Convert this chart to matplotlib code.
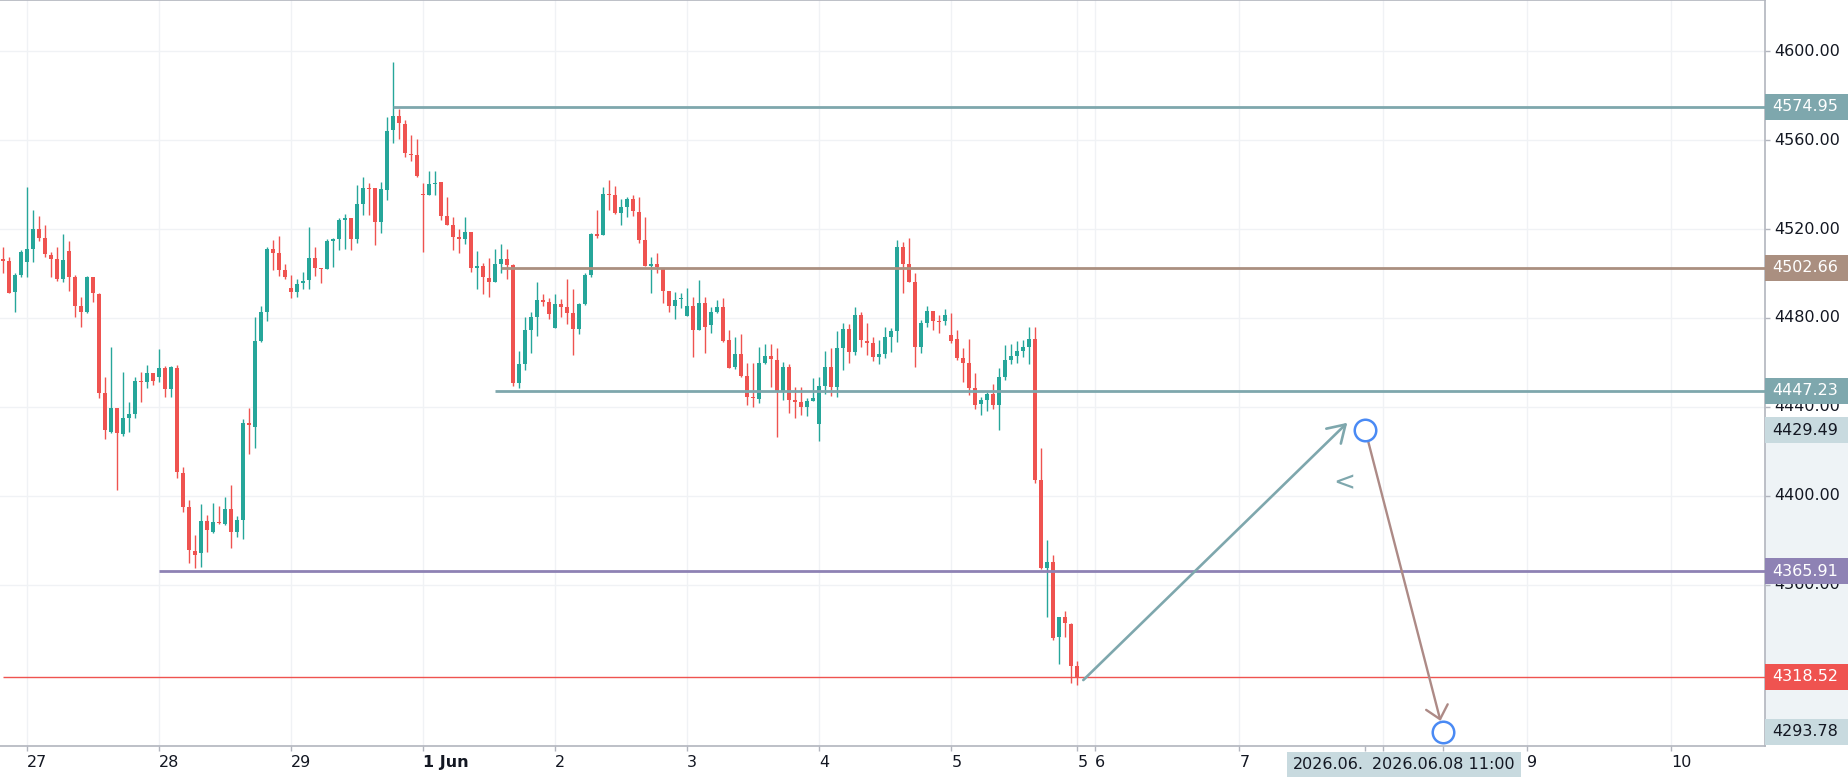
import matplotlib
matplotlib.use("Agg")
import matplotlib.pyplot as plt
import matplotlib.transforms as mtransforms
from matplotlib.patches import Rectangle
import numpy as np

#%% Farben

col_up = "#26a69a"
col_down = "#ef5350"
col_teal = "#7ea7ad"
col_brown = "#aa8f80"
col_purple = "#8e82b4"
col_light = "#c8dadf"
col_band = "#eef3f6"
col_grid = "#f0f2f5"
col_axis = "#b2b5be"
col_text = "#131722"
col_circle = "#4a8af4"
col_arrow2 = "#ad8a86"

#%% Daten: 1h-Kerzen, 26.05. 18:00 bis 05.06. 21:00

opens = [4506.6, 4505.5, 4491.5, 4499.5, 4505.0, 4511.0, 4519.8, 4515.8, 4508.3, 4506.3,
         4497.3, 4510.2, 4498.2, 4485.5, 4482.5, 4498.2, 4490.7, 4446.0, 4428.5, 4439.3,
         4427.7, 4434.8, 4436.6, 4451.6, 4451.0, 4455.0, 4453.5, 4457.6, 4447.8, 4457.6,
         4410.3, 4394.7, 4375.0, 4374.3, 4388.7, 4383.8, 4388.0, 4387.2, 4394.0, 4383.8,
         4389.0, 4432.5, 4431.0, 4469.7, 4482.8, 4510.8, 4509.0, 4501.5, 4493.3, 4491.5,
         4495.5, 4497.0, 4507.0, 4502.3, 4501.8, 4514.6, 4515.3, 4524.0, 4525.0, 4515.3,
         4531.2, 4538.5, 4538.5, 4523.2, 4537.6, 4564.6, 4571.0, 4567.1, 4553.6, 4553.3,
         4535.9, 4535.3, 4540.1, 4541.3, 4525.9, 4521.8, 4516.6, 4515.4, 4518.5, 4502.6,
         4503.5, 4498.1, 4496.3, 4504.3, 4506.4, 4503.8, 4450.9, 4459.1, 4474.6, 4480.6,
         4488.1, 4487.3, 4475.3, 4486.1, 4484.8, 4482.1, 4474.9, 4486.3, 4499.3, 4517.8,
         4517.3, 4535.8, 4535.3, 4527.4, 4530.1, 4533.4, 4527.8, 4515.1, 4503.5, 4504.1,
         4502.6, 4492.1, 4485.5, 4488.4, 4480.9, 4485.4, 4474.6, 4486.9, 4476.8, 4482.5,
         4484.8, 4470.1, 4457.8, 4463.8, 4453.9, 4444.6, 4443.5, 4459.6, 4463.0, 4461.1,
         4446.5, 4457.8, 4443.1, 4442.3, 4439.8, 4442.6, 4432.3, 4449.4, 4457.8, 4449.0,
         4466.3, 4475.2, 4464.8, 4481.3, 4469.8, 4468.6, 4462.6, 4463.8, 4471.3, 4474.3,
         4511.7, 4504.3, 4496.3, 4466.8, 4477.9, 4483.3, 4478.8, 4478.8, 4472.3, 4470.4,
         4461.8, 4459.6, 4448.3, 4441.3, 4443.1, 4445.8, 4440.8, 4453.6, 4461.1, 4462.8,
         4465.3, 4467.1, 4470.4, 4407.0, 4367.3, 4370.3, 4336.3, 4345.6, 4342.3, 4323.4]
highs = [4511.7, 4507.5, 4500.0, 4510.5, 4538.7, 4528.5, 4525.8, 4521.8, 4509.5, 4512.0,
         4517.7, 4514.4, 4499.2, 4489.5, 4498.8, 4498.2, 4491.0, 4453.5, 4467.0, 4439.3,
         4455.8, 4442.0, 4453.5, 4455.8, 4459.0, 4455.0, 4465.8, 4458.3, 4458.3, 4459.0,
         4413.0, 4398.0, 4382.5, 4396.2, 4391.3, 4396.8, 4395.5, 4399.5, 4405.0, 4390.8,
         4434.3, 4439.3, 4480.5, 4485.3, 4511.7, 4515.0, 4517.0, 4504.2, 4499.3, 4497.5,
         4500.8, 4521.0, 4511.7, 4502.3, 4515.3, 4515.8, 4524.8, 4526.7, 4525.0, 4540.0,
         4543.5, 4540.5, 4538.5, 4541.3, 4570.3, 4595.3, 4574.0, 4569.0, 4562.3, 4560.4,
         4540.6, 4546.1, 4546.1, 4541.3, 4534.6, 4525.6, 4519.9, 4525.3, 4518.8, 4510.3,
         4504.9, 4506.8, 4510.9, 4513.1, 4510.9, 4504.3, 4465.1, 4480.6, 4482.8, 4496.0,
         4490.6, 4488.8, 4490.6, 4488.4, 4497.4, 4492.9, 4486.9, 4500.1, 4518.4, 4528.6,
         4538.8, 4542.1, 4539.4, 4533.4, 4534.6, 4535.3, 4534.6, 4525.3, 4507.6, 4509.1,
         4502.6, 4492.1, 4491.5, 4491.0, 4493.6, 4489.6, 4497.1, 4489.6, 4485.1, 4488.1,
         4488.8, 4474.6, 4471.3, 4472.6, 4459.6, 4459.6, 4467.1, 4468.3, 4468.3, 4466.3,
         4460.3, 4459.1, 4449.1, 4449.1, 4443.8, 4453.1, 4453.6, 4465.3, 4466.3, 4474.0,
         4477.6, 4477.3, 4484.8, 4482.8, 4477.8, 4471.3, 4470.1, 4475.8, 4475.3, 4515.0,
         4514.3, 4515.8, 4500.0, 4479.0, 4485.3, 4483.3, 4481.3, 4483.8, 4482.0, 4474.6,
         4466.3, 4470.4, 4455.3, 4444.6, 4446.8, 4450.3, 4457.3, 4467.8, 4468.3, 4469.8,
         4470.1, 4475.8, 4475.8, 4421.3, 4380.1, 4373.3, 4345.6, 4348.3, 4342.9, 4325.8]
lows = [4500.3, 4491.0, 4482.8, 4498.2, 4498.2, 4505.0, 4514.7, 4507.2, 4498.2, 4496.7,
        4496.3, 4492.2, 4480.5, 4476.0, 4482.0, 4487.3, 4443.8, 4425.3, 4428.0, 4402.5,
        4426.8, 4428.8, 4434.8, 4442.3, 4448.3, 4449.8, 4451.0, 4444.2, 4444.2, 4407.8,
        4392.8, 4369.5, 4367.3, 4368.0, 4374.8, 4383.3, 4387.2, 4386.8, 4376.3, 4381.5,
        4380.3, 4418.7, 4421.3, 4469.3, 4478.7, 4501.5, 4499.0, 4497.7, 4488.8, 4489.5,
        4492.8, 4492.8, 4498.8, 4495.5, 4501.8, 4503.0, 4510.5, 4511.0, 4510.5, 4513.8,
        4526.3, 4526.3, 4513.0, 4518.0, 4533.0, 4558.6, 4560.4, 4552.3, 4550.8, 4543.6,
        4509.8, 4535.3, 4535.3, 4524.0, 4521.8, 4510.6, 4509.1, 4513.3, 4500.8, 4492.9,
        4490.8, 4489.6, 4496.3, 4500.4, 4497.5, 4449.5, 4448.3, 4456.6, 4464.1, 4472.0,
        4485.5, 4479.4, 4475.3, 4480.3, 4477.3, 4463.3, 4472.8, 4485.8, 4498.6, 4515.8,
        4517.3, 4528.6, 4526.8, 4521.8, 4525.3, 4525.9, 4513.9, 4503.5, 4491.0, 4500.4,
        4486.9, 4482.8, 4479.5, 4484.3, 4480.9, 4462.5, 4474.6, 4464.1, 4473.4, 4482.1,
        4469.3, 4457.3, 4456.9, 4453.6, 4440.8, 4439.8, 4441.6, 4459.3, 4449.1, 4426.6,
        4443.1, 4437.4, 4434.8, 4436.3, 4435.9, 4442.6, 4424.7, 4445.8, 4444.9, 4444.5,
        4456.6, 4459.6, 4463.3, 4467.1, 4463.3, 4460.8, 4459.3, 4461.8, 4464.8, 4469.3,
        4491.4, 4496.3, 4457.8, 4464.4, 4476.0, 4474.6, 4473.4, 4476.8, 4468.6, 4461.1,
        4451.3, 4445.3, 4438.9, 4436.3, 4438.3, 4438.9, 4429.6, 4452.1, 4459.3, 4459.6,
        4462.6, 4459.3, 4405.9, 4366.9, 4345.3, 4335.1, 4324.3, 4336.6, 4315.9, 4314.8]
closes = [4505.7, 4491.3, 4499.5, 4509.8, 4511.0, 4519.8, 4515.8, 4508.6, 4506.5, 4497.3,
          4506.0, 4498.2, 4485.5, 4482.8, 4498.2, 4491.0, 4446.3, 4429.5, 4439.3, 4428.0,
          4434.8, 4436.6, 4451.6, 4451.0, 4455.0, 4451.6, 4457.6, 4447.8, 4458.0, 4410.8,
          4395.0, 4375.5, 4373.3, 4388.7, 4384.5, 4388.0, 4387.5, 4394.0, 4383.8, 4389.0,
          4432.5, 4431.6, 4469.7, 4482.5, 4511.0, 4509.3, 4501.5, 4498.2, 4491.8, 4495.2,
          4496.5, 4507.0, 4502.3, 4501.8, 4514.5, 4515.3, 4524.0, 4525.0, 4515.3, 4531.2,
          4538.5, 4538.0, 4523.2, 4538.0, 4564.3, 4571.0, 4567.6, 4554.1, 4553.2, 4543.9,
          4535.5, 4540.1, 4540.6, 4526.0, 4521.8, 4516.6, 4515.4, 4518.5, 4502.3, 4503.5,
          4498.6, 4496.3, 4504.3, 4506.4, 4503.8, 4450.9, 4459.1, 4474.6, 4480.6, 4488.1,
          4487.3, 4481.6, 4486.1, 4484.8, 4482.1, 4474.9, 4486.1, 4499.3, 4517.8, 4517.0,
          4535.8, 4535.3, 4527.4, 4529.8, 4533.4, 4528.1, 4515.1, 4503.5, 4504.1, 4503.1,
          4492.1, 4485.5, 4488.1, 4488.7, 4485.4, 4474.6, 4486.9, 4476.1, 4482.8, 4484.8,
          4469.8, 4457.3, 4463.8, 4453.9, 4444.6, 4443.8, 4459.6, 4463.0, 4461.4, 4446.5,
          4457.8, 4443.1, 4442.3, 4439.8, 4442.6, 4444.1, 4449.4, 4457.8, 4449.0, 4466.3,
          4475.2, 4464.8, 4481.3, 4470.1, 4468.6, 4462.6, 4463.8, 4471.3, 4474.3, 4511.7,
          4504.3, 4496.3, 4466.8, 4477.9, 4483.3, 4478.8, 4478.2, 4481.3, 4469.8, 4461.8,
          4459.9, 4448.3, 4440.8, 4443.1, 4445.8, 4440.8, 4453.6, 4461.1, 4462.8, 4465.3,
          4467.1, 4470.4, 4407.0, 4367.3, 4370.3, 4335.8, 4345.6, 4342.6, 4323.4, 4318.52]

# Zeitachse
day_labels = ["27", "28", "29", "1 Jun", "2", "3", "4", "5"]
future_labels = ["5", "6", "7", "", "9", "10"]   # "8" liegt unter dem Datums-Label
first_day_bar = 4
bars_per_day = 22
future_bars = [179, 182, 206, 230, 254, 278]

# horizontale Linien (Preis, Startkerze)
level_prices = [4574.95, 4502.66, 4447.23, 4365.91, 4318.52]
level_start = [65, 83, 82, 26, 0]
level_colors = [col_teal, col_brown, col_teal, col_purple, col_down]

# Projektion: Pfeil hoch, Kreise, Pfeil runter
arrow_up_bars = [180, 224]
arrow_up_prices = [4317.0, 4432.8]
circle_bars = [227, 240]
circle_prices = [4429.49, 4293.78]
circle_dates = ["2026.06.", "2026.06.08 11:00"]   # erstes Label wird vom zweiten verdeckt
mark_bar = 223.5
mark_price = 4405.7

y_ticks = [4360, 4400, 4440, 4480, 4520, 4560, 4600]

#%% Plot

plt.rcParams['font.family'] = ['DejaVu Sans']

fig = plt.figure(figsize=(18.49, 7.82), dpi=100)
ax = fig.add_axes([0, 36/782, 1765/1849, 746/782])
ax.set_axisbelow(True)

x = np.arange(len(opens))
o = np.array(opens)
c = np.array(closes)
h = np.array(highs)
l = np.array(lows)
up = c >= o
colors = np.where(up, col_up, col_down)

ax.vlines(x, l, h, colors=colors, lw=1.0, zorder=2)
body = np.maximum(np.abs(c - o), 0.45)
ax.bar(x, body, bottom=np.minimum(o, c), width=0.7, color=colors, zorder=2.1, linewidth=0)

# Level-Linien
for p, s, col in zip(level_prices, level_start, level_colors):
    lw = 1.0 if col == col_down else 2.0
    ax.hlines(p, s, 300, color=col, lw=lw, zorder=3)

# Pfeile
ax.annotate("", xy=(arrow_up_bars[1], arrow_up_prices[1]),
            xytext=(arrow_up_bars[0], arrow_up_prices[0]),
            arrowprops=dict(arrowstyle='->,head_length=0.6,head_width=0.375', color=col_teal,
                            lw=1.9, shrinkA=0, shrinkB=0, mutation_scale=20), zorder=4)
ax.annotate("", xy=(circle_bars[1], circle_prices[1]),
            xytext=(circle_bars[0], circle_prices[0]),
            arrowprops=dict(arrowstyle='->,head_length=0.45,head_width=0.4', color=col_arrow2,
                            lw=1.7, shrinkA=8, shrinkB=8, mutation_scale=20), zorder=4)
ax.plot(circle_bars, circle_prices, ls='none', marker='o', ms=15.5, mfc='white',
        mec=col_circle, mew=1.8, zorder=5)
ax.text(mark_bar, mark_price, "<", color=col_teal, fontsize=19, ha='center', va='center', zorder=4)

# Achsen
ax.set_xlim(-0.55, 293.62)
ax.set_ylim(4287.33, 4623.06)

day_bars = [first_day_bar + bars_per_day*i for i in range(len(day_labels))]
xt = day_bars + future_bars + circle_bars
xl = day_labels + future_labels + ["", ""]
ax.set_xticks(xt)
ax.set_xticklabels(xl)
for t in ax.get_xticklabels():
    t.set_ha('left')
    if t.get_text() == "1 Jun":
        t.set_fontweight('bold')
ax.yaxis.tick_right()
ax.set_yticks(y_ticks)
ax.set_yticklabels([f"{v:.2f}" for v in y_ticks], va='center')
ax.tick_params(axis='both', colors=col_axis, labelcolor=col_text, labelsize=11.5, length=3.5, width=1)
ax.tick_params(axis='x', pad=3)
ax.tick_params(axis='y', pad=3)

ax.grid(True, color=col_grid, lw=1.0)
for t in ax.xaxis.get_major_ticks()[-2:]:
    t.gridline.set_visible(False)

ax.spines['left'].set_visible(False)
for s in ['top', 'right', 'bottom']:
    ax.spines[s].set_color(col_axis)
    ax.spines[s].set_linewidth(1.2)

# Preis-Labels rechts
ty = mtransforms.blended_transform_factory(ax.transAxes, ax.transData)
tx = mtransforms.blended_transform_factory(ax.transData, ax.transAxes)
px_y = (4623.06 - 4287.33) / 746
x_edge = 1849 / 1765
half = 13 * px_y

ax.add_patch(Rectangle((1.0, circle_prices[1] - half), x_edge - 1.0,
                       circle_prices[0] - circle_prices[1] + 2*half,
                       transform=ty, color=col_band, clip_on=False, zorder=0.2, lw=0))

label_prices = level_prices + circle_prices
label_bg = level_colors + [col_light, col_light]
label_fg = ['white'] * len(level_prices) + [col_text, col_text]
for p, bg, fg in zip(label_prices, label_bg, label_fg):
    ax.add_patch(Rectangle((1.0, p - half), x_edge - 1.0, 2*half, transform=ty,
                           color=bg, clip_on=False, zorder=6, lw=0))
    ax.text(1.0 + 7/1765, p, f"{p:.2f}", transform=ty, color=fg, fontsize=11.5,
            ha='left', va='center', zorder=7, clip_on=False)

# Datums-Labels unten (das zweite liegt über dem ersten)
ax.add_patch(Rectangle((circle_bars[0] - 13.0, -31/746), 26.0, 25/746, transform=tx,
                       color=col_light, clip_on=False, zorder=6, lw=0))
ax.text(circle_bars[0] - 12.0, -18.5/746, circle_dates[0], transform=tx, color=col_text,
        fontsize=11.5, ha='left', va='center', zorder=6.5, clip_on=False)
ax.add_patch(Rectangle((circle_bars[1] - 13.0, -31/746), 26.0, 25/746, transform=tx,
                       color=col_light, clip_on=False, zorder=7, lw=0))
ax.text(circle_bars[1], -18.5/746, circle_dates[1], transform=tx, color=col_text,
        fontsize=11.5, ha='center', va='center', zorder=7.5, clip_on=False)

fig.savefig("out.png", dpi=100)
